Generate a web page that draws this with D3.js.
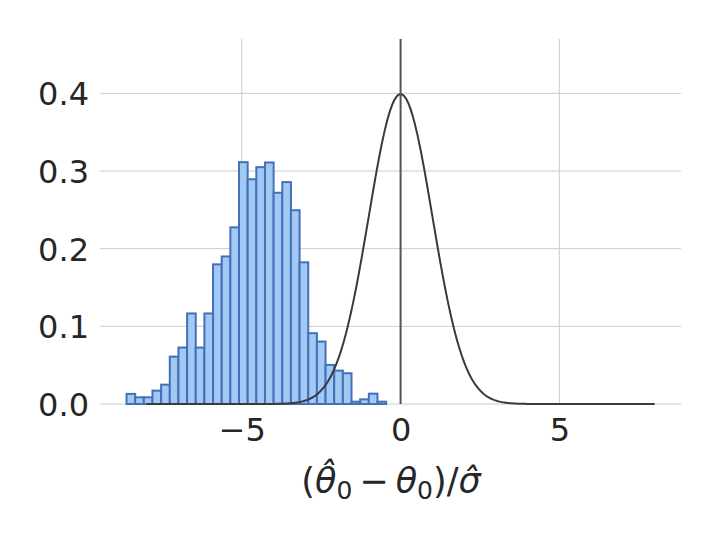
<!DOCTYPE html>
<html><head><meta charset="utf-8">
<script src="https://cdn.jsdelivr.net/npm/d3@7"></script>
<style>body{margin:0;background:#fff}svg{display:block}</style>
</head><body>
<svg id="c" width="720" height="540"></svg>
<script>
// Histogram (density)
const binStart = -8.63;
const binWidth = 0.2725;
const densities = [0.013,0.0086,0.0086,0.0172,0.0249,0.061,0.0727,0.1166,0.0727,0.1166,
  0.1798,0.19,0.2275,0.3114,0.2894,0.305,0.311,0.272,0.2857,0.2495,
  0.1824,0.0912,0.0804,0.0503,0.043,0.0396,0.003,0.006,0.0133,0.003];
// Reference standard normal density N(0,1) drawn over [-8, 8]
const normalMean = [0];
const normalSd = [1];
const curveRange = [-8, 8];
const xTicks = [-5, 0, 5];
const yTicks = [0.0, 0.1, 0.2, 0.3, 0.4];

const svg = d3.select('#c');
const L = 100, R = 681, T = 39, B = 404;
const x = d3.scaleLinear().domain([-9.465, 8.83]).range([L, R]);
const y = d3.scaleLinear().domain([0, 0.47]).range([B, T]);
const font = "'DejaVu Sans', sans-serif";

// grid
svg.append('g').selectAll('line').data(yTicks).join('line')
  .attr('x1', L).attr('x2', R).attr('y1', d => y(d)).attr('y2', d => y(d))
  .attr('stroke', '#cccccc').attr('stroke-width', 1);
svg.append('g').selectAll('line').data(xTicks).join('line')
  .attr('x1', d => x(d)).attr('x2', d => x(d)).attr('y1', T).attr('y2', B)
  .attr('stroke', '#cccccc').attr('stroke-width', 1);

// histogram
svg.append('g').selectAll('rect').data(densities).join('rect')
  .attr('x', (d, i) => x(binStart + i * binWidth))
  .attr('width', (d, i) => x(binStart + (i + 1) * binWidth) - x(binStart + i * binWidth))
  .attr('y', d => y(d)).attr('height', d => y(0) - y(d))
  .attr('fill', '#a1c9f4').attr('stroke', '#4470b8').attr('stroke-width', 2);

// normal curve
const pdf = v => Math.exp(-0.5 * Math.pow((v - normalMean[0]) / normalSd[0], 2)) / (normalSd[0] * Math.sqrt(2 * Math.PI));
const xs = d3.range(0, 401).map(i => curveRange[0] + (curveRange[1] - curveRange[0]) * i / 400);
svg.append('path').datum(xs)
  .attr('d', d3.line().x(d => x(d)).y(d => y(pdf(d))))
  .attr('fill', 'none').attr('stroke', '#3a3a3a').attr('stroke-width', 2);

// vertical line at 0
svg.append('line').attr('x1', x(0)).attr('x2', x(0)).attr('y1', T).attr('y2', B)
  .attr('stroke', '#555555').attr('stroke-width', 2);

// axes
const xAxis = svg.append('g').attr('transform', `translate(0,${B})`)
  .call(d3.axisBottom(x).tickValues(xTicks).tickSize(0).tickPadding(36).tickFormat(d => d < 0 ? '\u2212' + Math.abs(d) : String(d)));
xAxis.select('.domain').remove();
xAxis.selectAll('text').attr('font-family', font).attr('font-size', 32).attr('fill', '#262626').attr('dy', null).attr('y', 37);

const yAxis = svg.append('g').attr('transform', `translate(${L},0)`)
  .call(d3.axisLeft(y).tickValues(yTicks).tickSize(0).tickPadding(11).tickFormat(d3.format('.1f')));
yAxis.select('.domain').remove();
yAxis.selectAll('text').attr('font-family', font).attr('font-size', 32).attr('fill', '#262626').attr('dy', '0.36em');

// x label: (θ̂0 − θ0)/σ̂
const lab = svg.append('text').attr('x', 391).attr('y', 493).attr('text-anchor', 'middle')
  .attr('font-family', font).attr('font-size', 35).attr('fill', '#262626');
lab.append('tspan').text('(');
lab.append('tspan').attr('font-style', 'italic').text('\u03B8\u0302');
lab.append('tspan').attr('font-size', 25).attr('dy', 6).text('0');
lab.append('tspan').attr('dy', -6).text('\u2009\u2212\u2009');
lab.append('tspan').attr('font-style', 'italic').text('\u03B8');
lab.append('tspan').attr('font-size', 25).attr('dy', 6).text('0');
lab.append('tspan').attr('dy', -6).text(')/');
lab.append('tspan').attr('font-style', 'italic').text('\u03C3\u0302');
</script>
</body></html>
